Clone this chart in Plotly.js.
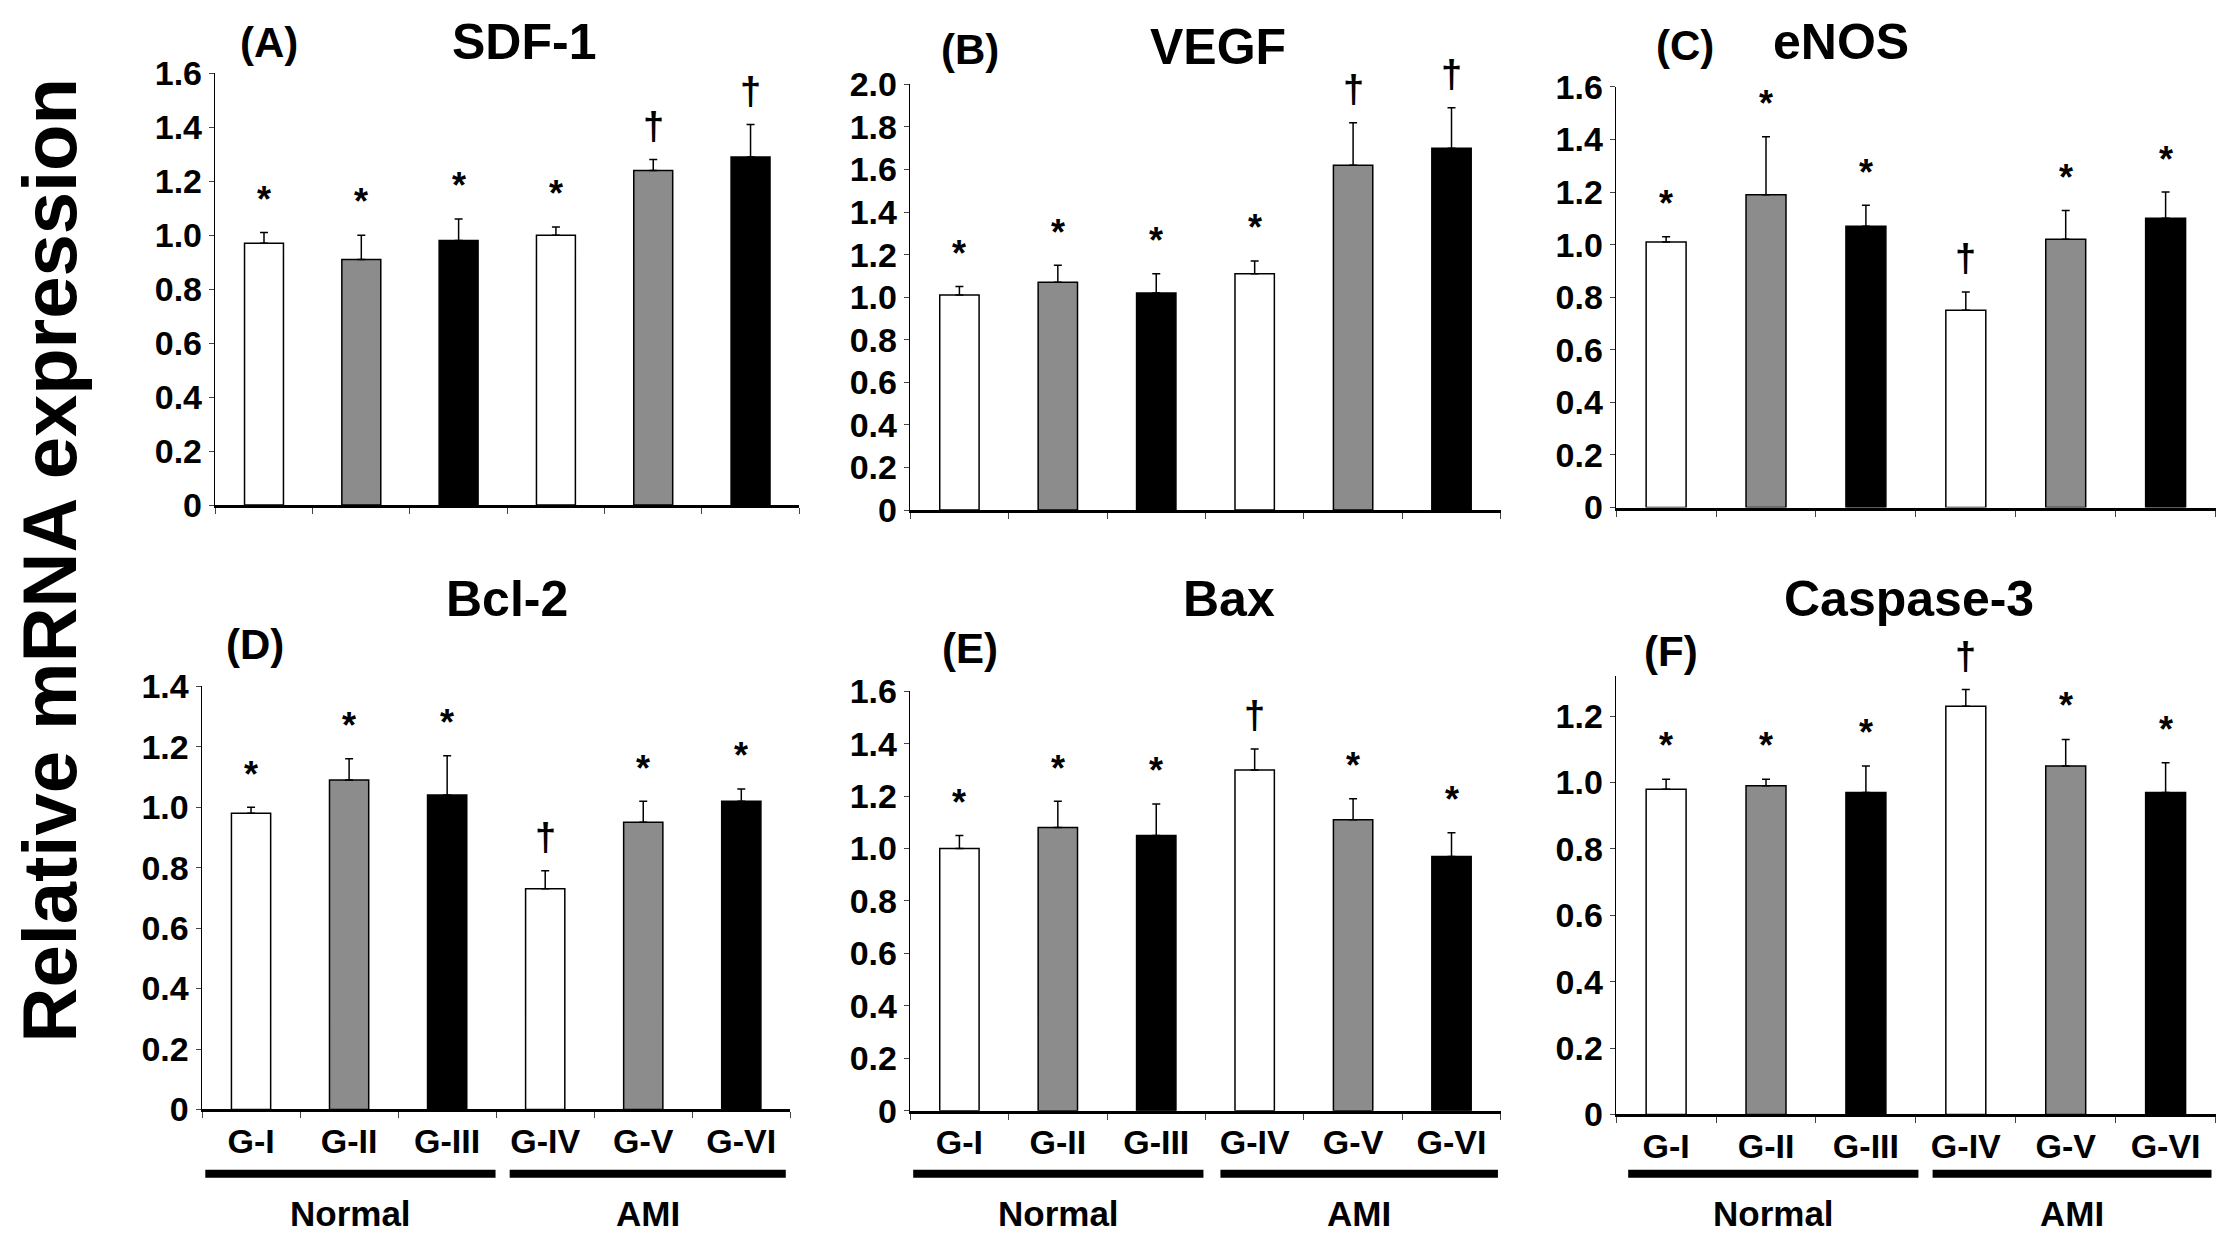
<!DOCTYPE html>
<html><head><meta charset="utf-8">
<script src="https://cdn.plot.ly/plotly-3.0.1.min.js"></script>
<style>body{margin:0;background:#fff}#c{width:2220px;height:1241px}</style>
</head><body><div id="c"></div>
<script>
const groups = ["G-I","G-II","G-III","G-IV","G-V","G-VI"];
const colors = ["#ffffff","#8c8c8c","#000000","#ffffff","#8c8c8c","#000000"];
const titles = ["SDF-1","VEGF","eNOS","Bcl-2","Bax","Caspase-3"];
const letters = ["(A)","(B)","(C)","(D)","(E)","(F)"];
const sdf1 = [0.97,0.91,0.98,1.00,1.24,1.29], sdf1Err = [0.04,0.09,0.08,0.03,0.04,0.12];
const vegf = [1.01,1.07,1.02,1.11,1.62,1.70], vegfErr = [0.04,0.08,0.09,0.06,0.20,0.19];
const enos = [1.01,1.19,1.07,0.75,1.02,1.10], enosErr = [0.02,0.22,0.08,0.07,0.11,0.10];
const bcl2 = [0.98,1.09,1.04,0.73,0.95,1.02], bcl2Err = [0.02,0.07,0.13,0.06,0.07,0.04];
const bax = [1.00,1.08,1.05,1.30,1.11,0.97], baxErr = [0.05,0.10,0.12,0.08,0.08,0.09];
const casp3 = [0.98,0.99,0.97,1.23,1.05,0.97], casp3Err = [0.03,0.02,0.08,0.05,0.08,0.09];
const marksA = ["*","*","*","*","†","†"];
const marksB = ["*","*","*","*","†","†"];
const marksOther = ["*","*","*","†","*","*"];
const yRanges = [[0,1.6],[0,2.0],[0,1.6],[0,1.4],[0,1.6],[0,1.32]];

const vals=[sdf1,vegf,enos,bcl2,bax,casp3], errs=[sdf1Err,vegfErr,enosErr,bcl2Err,baxErr,casp3Err];
const marks=[marksA,marksB,marksOther,marksOther,marksOther,marksOther];
const doms=[[[0.097,0.360],[0.593,0.941]],[[0.410,0.676],[0.589,0.932]],[[0.728,0.998],[0.591,0.930]],
 [[0.091,0.356],[0.106,0.447]],[[0.410,0.676],[0.105,0.443]],[[0.728,0.998],[0.102,0.455]]];
const F="Liberation Sans Narrow, Liberation Sans, Arial";
const traces=[], ann=[], shapes=[];
const layout={width:2220,height:1241,margin:{l:0,r:0,t:0,b:0},showlegend:false,paper_bgcolor:"#fff",plot_bgcolor:"rgba(0,0,0,0)",
 font:{family:F,color:"#000"}};
for(let i=0;i<6;i++){
  const xa=i?"x"+(i+1):"x", ya=i?"y"+(i+1):"y";
  traces.push({type:"bar",x:groups,y:vals[i],xaxis:xa,yaxis:ya,width:0.4,
    marker:{color:colors,line:{color:"#000",width:1.5}},
    error_y:{type:"data",symmetric:false,array:errs[i],arrayminus:groups.map(()=>0),color:"#000",thickness:1.5,width:4}});
  layout["xaxis"+(i?i+1:"")]={domain:doms[i][0],anchor:ya,type:"category",tickson:"boundaries",ticks:"outside",ticklen:6,
    showline:true,linewidth:3,linecolor:"#000",showgrid:false,showticklabels:i>=3,
    tickfont:{size:34,family:F,weight:"bold"},range:[-0.5,5.5]};
  const t=[],l=[];for(let v=0;v<=yRanges[i][1]+1e-9;v+=0.2){t.push(+v.toFixed(1));l.push(v<1e-9?"0":v.toFixed(1));}
  layout["yaxis"+(i?i+1:"")]={domain:doms[i][1],anchor:xa,range:yRanges[i],tickvals:t,ticktext:l,
    showline:true,linewidth:1.5,linecolor:"#000",ticks:"outside",ticklen:5,showgrid:false,zeroline:false,
    tickfont:{size:34,family:F,weight:"bold"}};
  const yr=yRanges[i][1];
  for(let k=0;k<6;k++){
    ann.push({xref:xa,yref:ya,x:groups[k],y:vals[i][k]+errs[i][k]+yr*0.025,text:marks[i][k],showarrow:false,
      xanchor:"center",yanchor:"bottom",font:{size:marks[i][k]=="*"?36:38,family:F,weight:"bold"}});
  }
}
const titlePos=[[370,30,190,30],[860,33,685,35],[1300,30,1190,32],[358,423,180,455],[868,423,685,458],[1348,423,1180,460]];
const s=2220/1568;
for(let i=0;i<6;i++){const p=titlePos[i];
  ann.push({xref:"paper",yref:"paper",x:p[0]*s/2220,y:1-p[1]*s/1241,xanchor:"center",yanchor:"middle",text:titles[i],showarrow:false,font:{size:50,family:"Liberation Sans, Arial",weight:"bold"}});
  ann.push({xref:"paper",yref:"paper",x:p[2]*s/2220,y:1-p[3]*s/1241,xanchor:"center",yanchor:"middle",text:letters[i],showarrow:false,font:{size:42,family:"Liberation Sans, Arial",weight:"bold"}});
}
const groupLines=[[145,350,360,555],[645,850,862,1058],[1150,1355,1365,1562]];
for(const g of groupLines){
  for(const [a,b,lab] of [[g[0],g[1],"Normal"],[g[2],g[3],"AMI"]]){
    shapes.push({type:"line",xref:"paper",yref:"paper",x0:a*s/2220,x1:b*s/2220,y0:1-829*s/1241,y1:1-829*s/1241,line:{color:"#000",width:8}});
    ann.push({xref:"paper",yref:"paper",x:(a+b)/2*s/2220,y:1-857*s/1241,xanchor:"center",yanchor:"middle",text:lab,showarrow:false,font:{size:35,family:F,weight:"bold"}});
  }
}
ann.push({xref:"paper",yref:"paper",x:35*s/2220,y:0.548,xanchor:"center",yanchor:"middle",text:"Relative mRNA expression",textangle:-90,showarrow:false,
  font:{size:76,family:"Liberation Sans, Arial",weight:"bold"}});
layout.annotations=ann; layout.shapes=shapes;
Plotly.newPlot("c",traces,layout,{staticPlot:true});
</script></body></html>
